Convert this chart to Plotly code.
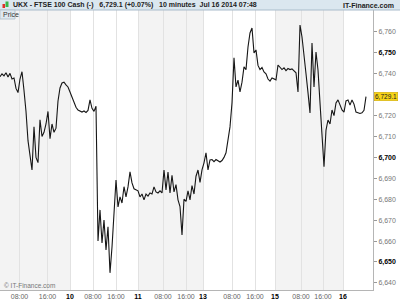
import plotly.graph_objects as go
import numpy as np

# Price samples (10-minute FTSE 100 cash), one sample every 2 bar-slots
price = [
    6738.6, 6740.0, 6739.0, 6740.5, 6738.5, 6740.2, 6737.5, 6738.0, 6733.0, 6731.0,
    6737.5, 6741.0, 6732.0, 6722.0, 6708.0, 6702.0, 6694.0, 6714.6, 6700.0, 6697.5,
    6718.0, 6710.0, 6712.0, 6716.0, 6722.0, 6709.0, 6716.0, 6712.0, 6714.0, 6727.0,
    6733.2, 6735.6, 6736.0, 6734.7, 6733.7, 6731.3, 6728.5, 6726.5, 6724.0, 6722.7,
    6722.0, 6721.7, 6722.2, 6721.5, 6722.5, 6727.5, 6723.5, 6722.0, 6724.5, 6660.0,
    6674.9, 6659.1, 6670.1, 6655.7, 6666.8, 6644.8, 6657.2, 6673.5, 6689.2, 6676.3,
    6681.1, 6678.2, 6686.0, 6681.1, 6685.9, 6693.1, 6687.8, 6685.0, 6684.5, 6684.0,
    6681.1, 6682.5, 6679.7, 6682.5, 6681.5, 6683.0, 6682.5, 6685.9, 6683.5, 6683.0,
    6684.0, 6683.0, 6694.0, 6684.5, 6693.0, 6683.0, 6691.5, 6683.5, 6687.0, 6679.7,
    6676.5, 6662.9, 6680.0, 6679.0, 6684.0, 6679.7, 6686.5, 6682.5, 6691.0, 6694.0,
    6688.0, 6694.0, 6697.4, 6702.2, 6694.0, 6698.8, 6699.0, 6698.0, 6699.0, 6698.3,
    6697.8, 6698.5, 6700.0, 6702.2, 6708.4, 6714.6, 6726.1, 6747.6, 6733.7, 6737.0,
    6731.3, 6736.0, 6743.3, 6742.0, 6752.8, 6759.5, 6761.9, 6750.0, 6751.4, 6744.0,
    6742.0, 6743.0, 6740.9, 6740.0, 6737.5, 6736.5, 6738.0, 6737.5, 6737.1, 6744.2,
    6743.3, 6742.0, 6742.8, 6741.5, 6742.5, 6742.0, 6742.3, 6741.2, 6740.5, 6731.3,
    6763.3, 6757.6, 6750.0, 6740.0, 6731.0, 6721.3, 6754.7, 6733.7, 6750.4, 6741.8,
    6726.1, 6709.8, 6695.5, 6713.1, 6717.9, 6716.0, 6722.7, 6720.0, 6726.1, 6727.5,
    6725.0, 6722.7, 6721.7, 6727.0, 6727.5, 6725.0, 6727.5, 6725.5, 6721.7, 6721.3,
    6721.0, 6721.3, 6722.5, 6729.1,
]
slot_step = 2
slot = [i * slot_step for i in range(len(price))]

# X axis ticks (bar-slot positions) and labels
x_tick_slots = [19.5, 47.5, 70, 93, 116, 138, 163, 186, 203, 232, 255, 275, 301, 323, 343]
x_tick_labels = ["08:00", "16:00", "10", "08:00", "16:00", "11", "08:00", "16:00", "13",
                 "08:00", "16:00", "15", "08:00", "16:00", "16"]
# day boundaries (alternating shading)
day_bounds = [0, 70, 138, 204, 275, 343, 373]
shaded_days = [0, 2, 4]

# Y axis ticks
y_ticks = [6640, 6650, 6660, 6670, 6680, 6690, 6700, 6710, 6720, 6740, 6750, 6760]
y_major = [6650, 6700, 6750]
last_price = 6729.1

fig = go.Figure()
fig.add_trace(go.Scatter(x=slot, y=price, mode="lines",
                         line=dict(color="#161616", width=1.1), hoverinfo="skip"))

xt = []
for lab in x_tick_labels:
    if ":" in lab:
        xt.append("<span style='color:#666'>%s</span>" % lab)
    else:
        xt.append("<b><span style='color:#000'>%s</span></b>" % lab)
yt = []
for v in y_ticks:
    s = "{:,}".format(v)
    if v in y_major:
        yt.append("<b><span style='color:#000'>%s</span></b>" % s)
    else:
        yt.append("<span style='color:#777'>%s</span>" % s)

shapes = []
for d in shaded_days:
    shapes.append(dict(type="rect", xref="x", yref="paper", x0=day_bounds[d], x1=day_bounds[d + 1],
                       y0=0, y1=1, fillcolor="#f3f3f3", line=dict(width=0), layer="below"))

W, H = 400, 300
L, R, T, B = 0, 27, 10, 10
pw, ph = W - L - R, H - T - B
def px(xp):
    return (xp - L) / pw
def py(yp):
    return (H - B - yp) / ph

# header bar
shapes.append(dict(type="rect", xref="paper", yref="paper", x0=px(0), x1=px(400), y0=py(10), y1=py(0),
                   fillcolor="#dbe7ef", line=dict(width=0), layer="above"))
shapes.append(dict(type="line", xref="paper", yref="paper", x0=px(0), x1=px(400), y0=py(10), y1=py(10),
                   line=dict(color="#a9bccb", width=1), layer="above"))
# small candlestick icon
shapes.append(dict(type="rect", xref="paper", yref="paper", x0=px(2.5), x1=px(5), y0=py(8), y1=py(4),
                   fillcolor="#e0302a", line=dict(width=0), layer="above"))
shapes.append(dict(type="rect", xref="paper", yref="paper", x0=px(5.5), x1=px(8.5), y0=py(7), y1=py(1.5),
                   fillcolor="#39b54a", line=dict(width=0), layer="above"))
# Price label box
shapes.append(dict(type="rect", xref="paper", yref="paper", x0=px(0), x1=px(15), y0=py(19), y1=py(10),
                   fillcolor="#dfe9f0", line=dict(color="#b7c5cf", width=1), layer="above"))

annotations = [
    dict(xref="paper", yref="paper", x=px(11), y=py(5), xanchor="left", yanchor="middle",
         text="<b>UKX - FTSE 100 Cash (-)   6,729.1 (+0.07%)   10 minutes  Jul 16 2014 07:48</b>",
         showarrow=False, font=dict(size=7, color="#222", family="Liberation Sans, Arial")),
    dict(xref="paper", yref="paper", x=px(396), y=py(5), xanchor="right", yanchor="middle",
         text="<b>IT-Finance.com</b>", showarrow=False,
         font=dict(size=7, color="#222", family="Liberation Sans, Arial")),
    dict(xref="paper", yref="paper", x=px(1), y=py(14.5), xanchor="left", yanchor="middle",
         text="Price", showarrow=False, font=dict(size=7, color="#333", family="Liberation Sans, Arial")),
    dict(xref="paper", yref="paper", x=px(2), y=py(285), xanchor="left", yanchor="middle",
         text="© IT-Finance.com", showarrow=False,
         font=dict(size=6.5, color="#777", family="Liberation Sans, Arial")),
    dict(xref="paper", yref="y", x=1, y=last_price, xanchor="left", yanchor="middle",
         text="6,729.1", showarrow=False, bgcolor="#f7d417", bordercolor="#c9a400", borderwidth=0.5,
         borderpad=0.5, xshift=1,
         font=dict(size=6.5, color="#222", family="Liberation Sans, Arial")),
]

fig.update_layout(
    width=W, height=H, margin=dict(l=L, r=R, t=T, b=B, pad=0, autoexpand=False),
    paper_bgcolor="white", plot_bgcolor="white", showlegend=False,
    font=dict(family="Liberation Sans, Arial", size=7),
    shapes=shapes, annotations=annotations,
    xaxis=dict(range=[0, 373], tickmode="array", tickvals=x_tick_slots, ticktext=xt,
               showgrid=True, gridcolor="#e2e2e2", gridwidth=1, zeroline=False,
               showline=True, linecolor="#b5b5b5", linewidth=1, ticks="", ticklen=0,
               tickfont=dict(size=7), automargin=False, fixedrange=True),
    yaxis=dict(side="right", range=[6636.6, 6770.5], tickmode="array", tickvals=y_ticks, ticktext=yt,
               showgrid=False, zeroline=False, showline=True, linecolor="#b5b5b5", linewidth=1,
               ticks="outside", ticklen=3, tickcolor="#999", tickfont=dict(size=7),
               automargin=False, fixedrange=True),
)

fig.write_html("out.html")
